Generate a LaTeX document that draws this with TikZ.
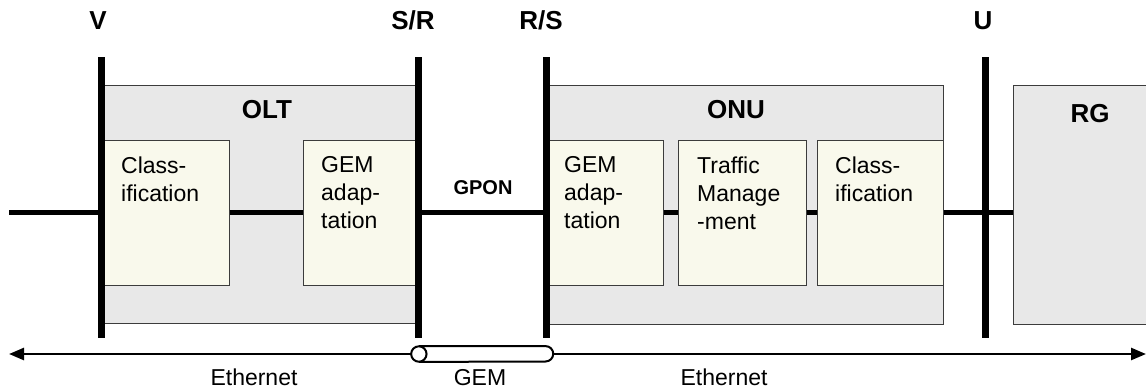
\documentclass[tikz,border=0pt]{standalone}
\usepackage{fontspec}
\setmainfont{Liberation Sans}
\usetikzlibrary{arrows.meta}
\definecolor{unitgray}{HTML}{E8E8E8}
\definecolor{blockivory}{HTML}{F9F9EC}
\definecolor{edgegray}{HTML}{3C3C3C}
\begin{document}
\begin{tikzpicture}
[x=1pt,y=-1pt,
 unitdecorate/.style={shape=rectangle,draw=edgegray,fill=unitgray,line width=1pt,inner sep=0pt},%
 blockdecorate/.style={shape=rectangle,draw=edgegray,fill=blockivory,line width=1pt,inner sep=0pt,
   minimum height=145},%
 textdecorate/.style={anchor=north west,align=left,inner sep=0pt,font=\fontsize{23}{28}\selectfont},%
 namedecorate/.style={anchor=base,inner sep=0pt,font=\fontsize{26}{30}\selectfont\bfseries},%
 linkdecorate/.style={-,line width=4.5pt},%
 ifacedecorate/.style={-,line width=7pt},%
 busdecorate/.style={-{Triangle[length=15pt,width=12pt]},line width=2.5pt},%
 tubedecorate/.style={line width=2pt}]
\useasboundingbox (0,0) rectangle (1146,389);
\clip (0,0) rectangle (1146,389);
%%
%% equipment: OLT, ONU and RG
\foreach \nodename/\x/\y/\w/\h in {olt/259.5/204/317/238, onu/744.5/204.5/397/239,
  rg/1086.5/204.5/147/239} {
  \node (\nodename) at (\x,\y) [unitdecorate,minimum width=\w,minimum height=\h] {};
}
\foreach \nodename/\x/\y/\name in {oltname/267/118/OLT, onuname/736/118/ONU,
  rgname/1090/122/RG} {
  \node (\nodename) at (\x,\y) [namedecorate] {\name};
}
%%
%% function blocks
\foreach \nodename/\x/\w/\tx/\txt in {cls1/165/128/121/{Class-\\ification},
  gem1/360.5/115/321/{GEM\\adap-\\tation}, gem2/604.5/117/564/{GEM\\adap-\\tation},
  tm/742/128/697/{Traffic\\Manage\\-ment}, cls2/880/126/835/{Class-\\ification}} {
  \node (\nodename) at (\x,212.5) [blockdecorate,minimum width=\w] {};
  \node (\nodename text) at (\tx,156.4) [textdecorate] {\txt};
}
%%
%% links between the blocks
\coordinate (in) at (9,212.5);
\path
\foreach \startnode/\endnode in {in/cls1, cls1/gem1, gem1/gem2, gem2/tm, tm/cls2} {
  (\startnode) edge[linkdecorate] (\endnode)
};
\draw[linkdecorate] (cls2.east) -- (cls2.east -| rg.west);
\node (gpon) at (483,194) [anchor=base,inner sep=0pt,font=\fontsize{20}{24}\selectfont\bfseries] {GPON};
%%
%% reference points
\foreach \nodename/\x/\lx/\lbl in {v/101/98/V, sr/418/413/{S/R}, rs/546/541/{R/S}, u/985/983/U} {
  \coordinate (\nodename top) at (\x,57);
  \coordinate (\nodename bot) at (\x,338);
  \draw[ifacedecorate] (\nodename top) -- (\nodename bot);
  \node (\nodename name) at (\lx,29) [namedecorate] {\lbl};
}
%%
%% GEM tube and Ethernet arrows
\node (gem) at (482.2,354) [minimum width=141.7,minimum height=15.4,inner sep=0pt] {};
\draw[tubedecorate] ([xshift=7.7pt]gem.north west) -- ([xshift=-7.7pt]gem.north east)
  arc(-90:90:7.7) -- ([xshift=7.7pt]gem.south west);
\draw[tubedecorate,fill=white] ([xshift=7.7pt]gem.west) circle (7.7);
\coordinate (ethL) at (9,354);
\coordinate (ethR) at (1146,354);
\draw[busdecorate] (gem.west) -- (ethL);
\draw[busdecorate] (gem.east) -- (ethR);
\foreach \nodename/\x/\txt in {ethLname/254/Ethernet, gemname/480/GEM, ethRname/724/Ethernet} {
  \node (\nodename) at (\x,385) [anchor=base,inner sep=0pt,font=\fontsize{23}{28}\selectfont] {\txt};
}
\end{tikzpicture}
\end{document}
